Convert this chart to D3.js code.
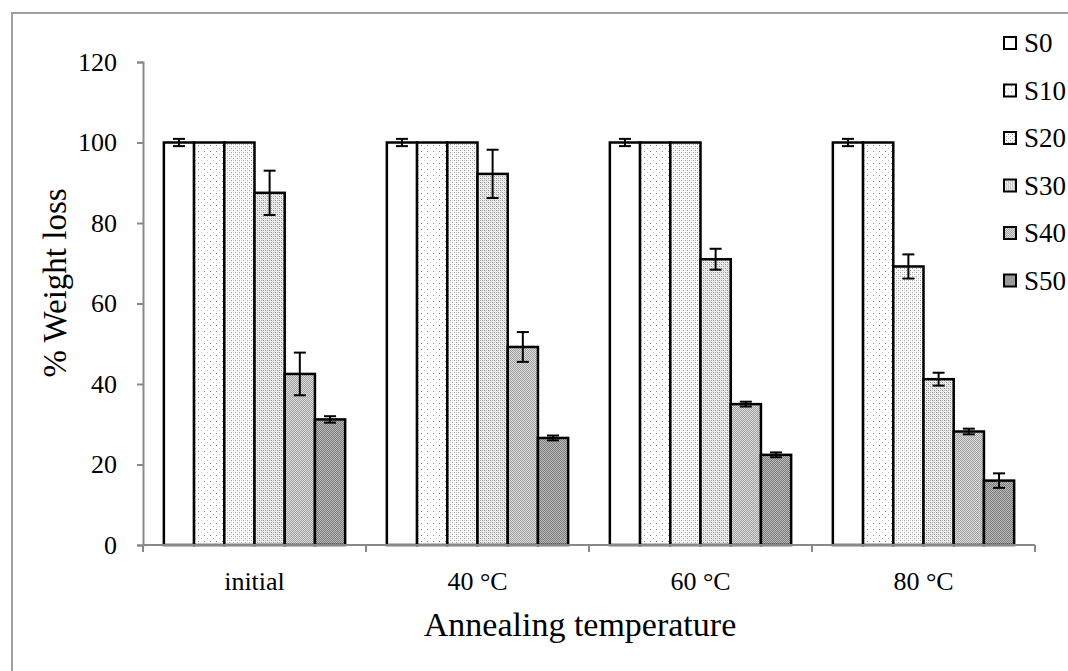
<!DOCTYPE html>
<html>
<head>
    <meta charset="utf-8">
    <title>Weight loss vs annealing temperature</title>
    <style>
    body{ margin:0; background:#fff; }
    svg{ display:block; }
    svg text{ font-family: 'Liberation Serif', 'Times New Roman', serif !important; fill:#000; }
    </style>
</head>
<body>
<div id="chart"></div>

<script src="https://d3js.org/d3.v7.min.js"></script>
<script>
// data
var categories = ["initial", "40 \u00b0C", "60 \u00b0C", "80 \u00b0C"];
var series     = ["S0", "S10", "S20", "S30", "S40", "S50"];

// one row per category, one value per series
var values = [
    [100, 100, 100, 87.5, 42.5, 31.2],
    [100, 100, 100, 92.2, 49.2, 26.6],
    [100, 100, 100, 71.0, 35.0, 22.4],
    [100, 100, 69.2, 41.2, 28.2, 16.0]
];
var errors = [
    [0.9, 0, 0, 5.5, 5.3, 0.8],
    [0.9, 0, 0, 6.0, 3.7, 0.6],
    [0.9, 0, 0, 2.6, 0.6, 0.6],
    [0.9, 0, 3.0, 1.6, 0.7, 1.8]
];
var yTicks = [0, 20, 40, 60, 80, 100, 120];

var width = 1068, height = 671;
var serif = "'Liberation Serif', 'Times New Roman', serif";

var svg = d3.select("#chart")
    .append("svg")
    .attr("width", width)
    .attr("height", height)
    .attr("font-family", serif);

//********** fill patterns (dots -> checker) *************//
var defs = svg.append("defs");
function addPattern(id, size, bg, dots){
    var p = defs.append("pattern")
        .attr("id", id)
        .attr("patternUnits", "userSpaceOnUse")
        .attr("width", size).attr("height", size);
    p.append("rect").attr("width", size).attr("height", size).attr("fill", bg);
    dots.forEach(function(d){
        p.append("rect").attr("x", d[0]).attr("y", d[1])
            .attr("width", 1).attr("height", 1).attr("fill", d[2]);
    });
}
addPattern("p0", 4, "#ffffff", []);
addPattern("p1", 6, "#ffffff", [[1,1,"#8a8a8a"],[4,4,"#c8c8c8"]]);
addPattern("p2", 4, "#ffffff", [[0,0,"#9a9a9a"],[2,2,"#9a9a9a"],[2,0,"#dcdcdc"],[0,2,"#dcdcdc"]]);
addPattern("p3", 4, "#f0f0f0", [[0,0,"#8c8c8c"],[2,2,"#8c8c8c"],[2,0,"#b4b4b4"],[0,2,"#b4b4b4"],[1,1,"#d6d6d6"],[3,3,"#d6d6d6"]]);
addPattern("p4", 2, "#dcdcdc", [[0,0,"#a0a0a0"],[1,1,"#a0a0a0"]]);
addPattern("p5", 2, "#bcbcbc", [[0,0,"#7a7a7a"],[1,1,"#7a7a7a"]]);

var fillFor = d3.scaleOrdinal()
    .domain(series)
    .range(series.map(function(s, i){ return "url(#p" + i + ")"; }));

// outer frame (runs off the right and bottom)
svg.append("path")
    .attr("d", "M12," + height + "V13H" + width)
    .attr("fill", "none")
    .attr("stroke", "#a0a0a0")
    .attr("stroke-width", 2);

var x0 = d3.scaleBand()
    .domain(categories)
    .range([143, 1035])
    .padding(0);

var x1 = d3.scaleBand()
    .domain(series)
    .range([0, x0.bandwidth()])
    .paddingInner(0)
    .paddingOuter(0.69);

var y = d3.scaleLinear()
    .domain([0, 120])
    .range([545, 62]);

// y axis
var yAxis = svg.append("g")
    .attr("transform", "translate(143,0)")
    .call(d3.axisLeft(y).tickValues(yTicks).tickSize(6).tickPadding(20));
yAxis.attr("font-family", serif).attr("font-size", 26);
yAxis.select(".domain").attr("stroke", "#898989").attr("stroke-width", 2);
yAxis.selectAll(".tick line").attr("stroke", "#898989").attr("stroke-width", 2);
yAxis.selectAll(".tick text").attr("fill", "#000");

// bars
var groups = svg.selectAll(".group")
    .data(categories)
    .enter().append("g")
    .attr("class", "group")
    .attr("transform", function(c){ return "translate(" + x0(c) + ",0)"; });

groups.selectAll("rect.bar")
    .data(function(c, ci){
        return series.map(function(s, si){
            return { s: s, v: values[ci][si], e: errors[ci][si] };
        });
    })
    .enter().append("rect")
    .attr("class", "bar")
    .attr("x", function(d){ return x1(d.s); })
    .attr("y", function(d){ return y(d.v); })
    .attr("width", x1.bandwidth())
    .attr("height", function(d){ return y(0) - y(d.v); })
    .attr("fill", function(d){ return fillFor(d.s); })
    .attr("stroke", "#000")
    .attr("stroke-width", 2.5);

// error bars
var err = groups.selectAll("g.err")
    .data(function(c, ci){
        return series.map(function(s, si){
            return { s: s, v: values[ci][si], e: errors[ci][si] };
        }).filter(function(d){ return d.e > 0; });
    })
    .enter().append("g")
    .attr("class", "err")
    .attr("stroke", "#000")
    .attr("stroke-width", 2);

var cap = 6;
function mid(d){ return x1(d.s) + x1.bandwidth() / 2; }
err.append("line")
    .attr("x1", mid).attr("x2", mid)
    .attr("y1", function(d){ return y(d.v + d.e); })
    .attr("y2", function(d){ return y(d.v - d.e); });
err.append("line")
    .attr("x1", function(d){ return mid(d) - cap; })
    .attr("x2", function(d){ return mid(d) + cap; })
    .attr("y1", function(d){ return y(d.v + d.e); })
    .attr("y2", function(d){ return y(d.v + d.e); });
err.append("line")
    .attr("x1", function(d){ return mid(d) - cap; })
    .attr("x2", function(d){ return mid(d) + cap; })
    .attr("y1", function(d){ return y(d.v - d.e); })
    .attr("y2", function(d){ return y(d.v - d.e); });

// x axis: line, ticks at category boundaries, centred labels
var xAxis = svg.append("g");
xAxis.append("line")
    .attr("x1", x0.range()[0]).attr("x2", x0.range()[1])
    .attr("y1", y(0)).attr("y2", y(0))
    .attr("stroke", "#898989").attr("stroke-width", 2);
xAxis.selectAll(".bound")
    .data(categories.map(function(c){ return x0(c); }).concat([x0.range()[1]]))
    .enter().append("line")
    .attr("x1", function(d){ return d; }).attr("x2", function(d){ return d; })
    .attr("y1", y(0)).attr("y2", y(0) + 7)
    .attr("stroke", "#898989").attr("stroke-width", 2);
xAxis.selectAll(".lab")
    .data(categories)
    .enter().append("text")
    .attr("x", function(c){ return x0(c) + x0.bandwidth() / 2; })
    .attr("y", 590)
    .attr("text-anchor", "middle")
    .attr("font-size", 26)
    .text(function(c){ return c; });

// axis titles
svg.append("text")
    .attr("x", 580)
    .attr("y", 636)
    .attr("text-anchor", "middle")
    .attr("font-size", 34)
    .text("Annealing temperature");

svg.append("text")
    .attr("transform", "translate(66,283) rotate(-90)")
    .attr("text-anchor", "middle")
    .attr("font-size", 33)
    .text("% Weight loss");

// legend
var legend = svg.selectAll(".legend")
    .data(series)
    .enter().append("g")
    .attr("class", "legend")
    .attr("transform", function(s, i){ return "translate(1004," + (43 + i * 47.5) + ")"; });
legend.append("rect")
    .attr("x", 0).attr("y", -6)
    .attr("width", 12).attr("height", 12)
    .attr("fill", function(s){ return fillFor(s); })
    .attr("stroke", "#000")
    .attr("stroke-width", 2);
legend.append("text")
    .attr("x", 20)
    .attr("y", 9)
    .attr("font-family", serif)
    .attr("font-size", 27)
    .text(function(s){ return s; });
</script>
</body>
</html>
